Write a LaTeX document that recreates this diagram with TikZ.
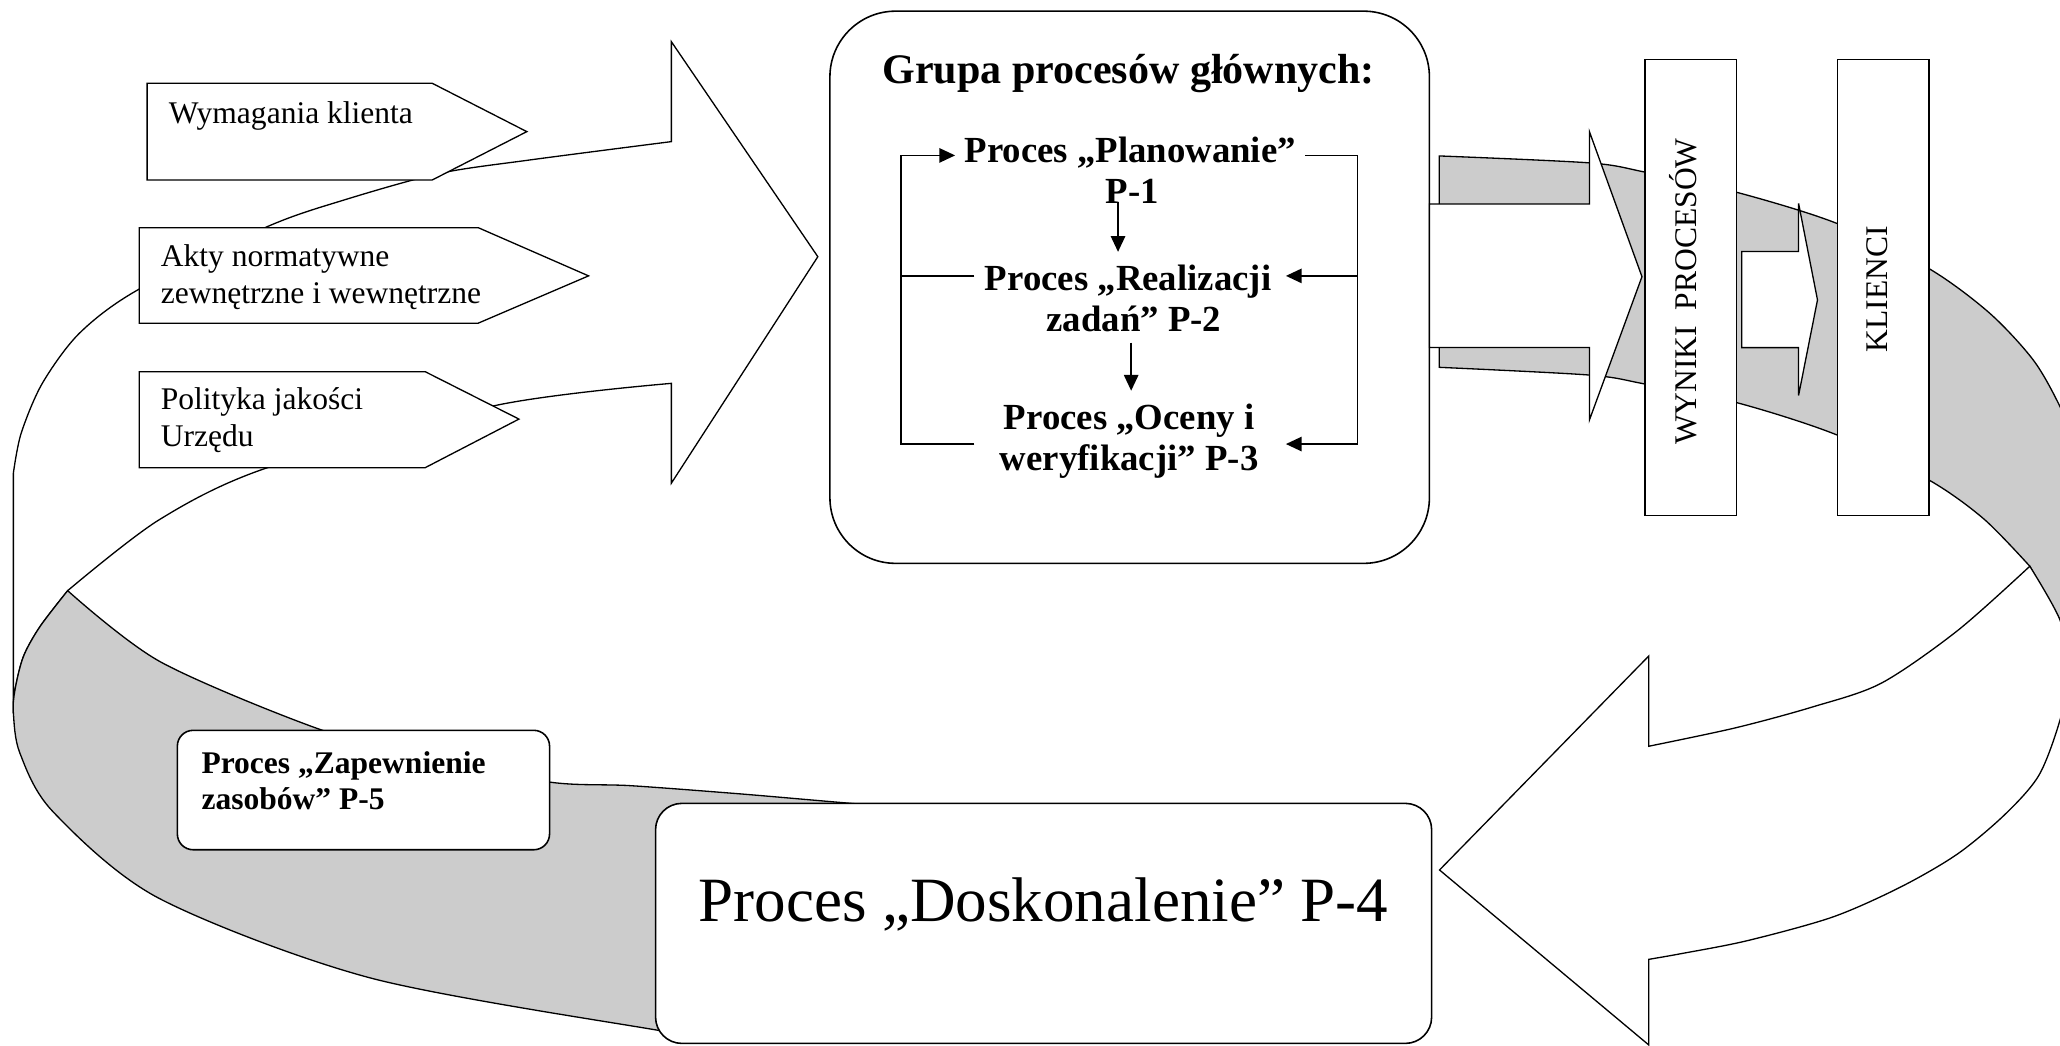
\documentclass[tikz,border=0pt]{standalone}
\usepackage{fontspec}
\setmainfont{Liberation Serif}
\usetikzlibrary{arrows.meta}
\definecolor{band}{RGB}{204,204,204}
\begin{document}
\begin{tikzpicture}[x=0.5pt,y=-0.5pt,
  outl/.style={draw=black,line width=0.5pt,line join=miter},
  boxln/.style={draw=black,line width=0.6pt,fill=white,inner sep=0pt,outer sep=0pt},
  ln/.style={line width=0.55pt},
  tip/.style={-{Triangle[length=6pt,width=5.5pt]}},
  t12/.style={font=\fontsize{12}{13.8}\selectfont, inner sep=0pt},
  b12/.style={font=\fontsize{12}{13.8}\selectfont\bfseries, inner sep=0pt},
  b14/.style={font=\fontsize{14}{16}\selectfont\bfseries, inner sep=3.4pt},
]
\useasboundingbox (0,0) rectangle (1568,796);
\begin{scope}
\clip (0,0) rectangle (1568,796);

% grey band, right part
\filldraw[fill=band,outl] (1095.5,279.6) -- (1095.5,118.7)
  -- plot[smooth] coordinates {(1095.5,118.7) (1210,124) (1252,131) (1322,146.4) (1398,170) (1468,204.3) (1514,238) (1547.6,274) (1568,309.5) (1585,350) (1595,400)}
  -- (1600,500) -- (1575,510) -- (1568,472) -- (1545,431)
  -- plot[smooth] coordinates {(1545,431) (1510,395) (1468.3,365.4) (1398,331) (1322,306.5) (1252,292.3) (1210,285.5) (1095.5,279.6)} -- cycle;

% white curved arrow, bottom right
\filldraw[fill=white,outl] (1255,730.2) -- (1255,795.4) -- (1095.7,662.2) -- (1255,499.3) -- (1255,568)
  -- plot[smooth] coordinates {(1255,568) (1321,554) (1380,538) (1432,520) (1490,480) (1545,431)}
  -- plot[smooth] coordinates {(1545,431) (1568,472) (1575,510) (1568,548) (1552,590) (1526,620) (1490,650) (1447,675) (1395,698) (1330,716) (1279,726) (1255,730.2)} -- cycle;

% white curved arrow, top left
\filldraw[fill=white,outl] (10.2,543) -- (10.2,360)
  -- plot[smooth] coordinates {(10.2,360) (16.1,329.8) (32.2,291.8) (60.4,253.7) (104.8,220.7) (203.5,172.5) (262,152.2) (334.5,132) (403,121.8) (511,107.8)}
  -- (511,31.7) -- (622.5,195.4) -- (511,367.8) -- (511,291.8)
  -- plot[smooth] coordinates {(511,291.8) (378.8,308.3) (203.5,356) (120.9,395.8) (51.5,449.6)}
  -- plot[smooth] coordinates {(51.5,449.6) (30.4,477) (17.8,499.8) (11.4,525.2) (10.2,543)} -- cycle;

% grey band, bottom left
\filldraw[fill=band,outl] plot[smooth] coordinates {(51.5,449.6) (30.4,477) (17.8,499.8) (11.4,525.2) (10.2,543) (15.2,573.4) (40.3,617.8) (120.9,683.7) (282,744.4) (499.6,784) (560,792)}
  -- (650,730) -- (700,616)
  -- plot[smooth] coordinates {(700,616) (624.5,609.5) (560,604) (479.5,598) (419,595.4) (330,578) (241.8,554.6) (121.8,503.6) (51.5,449.6)} -- cycle;

% main group box
\node[boxln, rounded corners=25pt, minimum width=228.15pt, minimum height=210.15pt] (mainbox) at (859.85,218.65) {};

% white arrow from main box to results
\filldraw[fill=white,outl] (1088,155.3) -- (1209.8,155.3) -- (1209.8,100.2) -- (1249.8,210.6) -- (1209.8,319.7) -- (1209.8,264.5) -- (1088,264.5) -- cycle;

% results and clients boxes
\node[boxln, minimum width=34.9pt, minimum height=173.65pt] (wynbox) at (1287,218.85) {};
\node[boxln, minimum width=34.9pt, minimum height=173.65pt] (klibox) at (1433.4,218.85) {};
\node[t12, rotate=90, text height=8pt, text depth=0pt] (wyn) at (1283.5,222) {WYNIKI\ \ PROCESÓW};
\node[t12, rotate=90, text height=8pt, text depth=0pt] (kli) at (1429,220) {KLIENCI};

% small arrow between results and clients
\filldraw[fill=white,outl] (1325.7,191.5) -- (1369,191.5) -- (1369,154.8) -- (1383.4,228.3) -- (1369,301) -- (1369,264.6) -- (1325.7,264.6) -- cycle;

% input pentagons
\filldraw[fill=white,outl] (112,63.4) -- (329,63.4) -- (401,100.2) -- (329,137) -- (112,137) -- cycle;
\filldraw[fill=white,outl] (106,173.3) -- (364,173.3) -- (448,210) -- (364,246) -- (106,246) -- cycle;
\filldraw[fill=white,outl] (106,282.9) -- (323.6,282.9) -- (395,319) -- (323.6,356) -- (106,356) -- cycle;
\node[t12, anchor=base west] (wym) at (128.1,93.9) {Wymagania klienta};
\node[t12, anchor=base west] (akt1) at (122,203) {Akty normatywne};
\node[t12, anchor=base west] (akt2) at (122,230.9) {zewnętrzne i wewnętrzne};
\node[t12, anchor=base west] (pol1) at (122,312) {Polityka jakości};
\node[t12, anchor=base west] (pol2) at (122,340) {Urzędu};

% P-5 box
\node[boxln, rounded corners=6pt, minimum width=141.65pt, minimum height=45.45pt] (p5box) at (276.65,601.35) {};
\node[b12, anchor=base west] (p5a) at (153,588.8) {Proces „Zapewnienie};
\node[b12, anchor=base west] (p5b) at (153,616.5) {zasobów” P-5};

% P-4 box
\node[boxln, rounded corners=10pt, minimum width=295.35pt, minimum height=91.35pt] (p4box) at (794.35,702.85) {};
\node[font=\fontsize{24}{27}\selectfont, inner sep=0pt, anchor=base] (p4) at (794.2,701.5) {Proces „Doskonalenie” P-4};

\end{scope}

% contents of the main box
\node[font=\fontsize{16}{18}\selectfont\bfseries, inner sep=0pt, anchor=base] (title) at (859,63.4) {Grupa procesów głównych:};
\node[b14, anchor=base] (p1a) at (860.3,124) {Proces „Planowanie”};
\node[b14, anchor=base] (p1b) at (861.8,155) {P-1};
\node[b14, anchor=base] (p2a) at (858.7,221.3) {Proces „Realizacji};
\node[b14, anchor=base] (p2b) at (863,252.3) {zadań” P-2};
\node[b14, anchor=base] (p3a) at (859.5,327) {Proces „Oceny i};
\node[b14, anchor=base] (p3b) at (859.5,358) {weryfikacji” P-3};

\coordinate (la) at (685.7,118.3);
\coordinate (lb) at (685.7,210);
\coordinate (lc) at (685.7,338);
\coordinate (ra) at (1033.4,118.3);
\coordinate (rb) at (1033.4,210);
\coordinate (rc) at (1033.4,338);
\coordinate (tx) at (978.8,0);
\coordinate (sx) at (741.6,0);
\coordinate (d1) at (851,153.7);
\coordinate (d2) at (851,191.7);
\coordinate (d3) at (861,260.8);
\coordinate (d4) at (861,297.4);

\draw[ln,tip] (lc -| sx) -- (lc) -- (la) -- (p1a.west |- la);
\draw[ln] (lb -| sx) -- (lb);
\draw[ln] (p1a.east |- ra) -- (ra) -- (rc);
\draw[ln,tip] (rb) -- (rb -| tx);
\draw[ln,tip] (rc) -- (rc -| tx);
\draw[ln,tip] (d1) -- (d2);
\draw[ln,tip] (d3) -- (d4);
\end{tikzpicture}
\end{document}
